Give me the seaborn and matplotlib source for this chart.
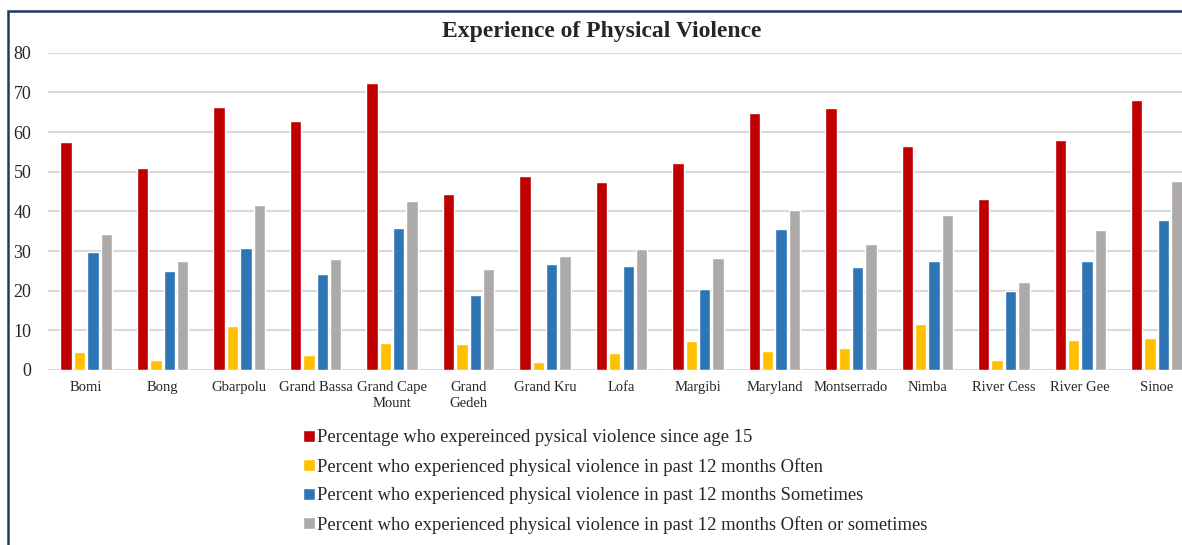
import matplotlib
matplotlib.use("Agg")
import matplotlib.pyplot as plt
from matplotlib.patches import Rectangle
import pandas as pd
import seaborn as sns

counties = ["Bomi", "Bong", "Gbarpolu", "Grand Bassa", "Grand Cape Mount",
            "Grand Gedeh", "Grand Kru", "Lofa", "Margibi", "Maryland",
            "Montserrado", "Nimba", "River Cess", "River Gee", "Sinoe"]
tick_labels = ["Bomi", "Bong", "Gbarpolu", "Grand Bassa", "Grand Cape\nMount",
               "Grand\nGedeh", "Grand Kru", "Lofa", "Margibi", "Maryland",
               "Montserrado", "Nimba", "River Cess", "River Gee", "Sinoe"]

since_age_15 = [57.6, 51.0, 66.2, 62.9, 72.3, 44.5, 49.0, 47.3, 52.2, 64.7,
                66.0, 56.5, 43.1, 57.9, 68.0]
past12_often = [4.6, 2.4, 11.0, 3.8, 6.7, 6.6, 1.9, 4.2, 7.2, 4.7,
                5.5, 11.6, 2.4, 7.6, 8.0]
past12_sometimes = [29.7, 25.0, 30.7, 24.1, 35.7, 18.9, 26.6, 26.1, 20.4, 35.5,
                    26.0, 27.5, 19.9, 27.5, 37.7]
past12_often_or_sometimes = [34.4, 27.6, 41.6, 28.0, 42.5, 25.5, 28.7, 30.5, 28.2, 40.3,
                             31.7, 39.2, 22.2, 35.2, 47.6]

series_names = [
    "Percentage who expereinced pysical violence since age 15",
    "Percent who experienced physical violence in past 12 months Often",
    "Percent who experienced physical violence in past 12 months Sometimes",
    "Percent who experienced physical violence in past 12 months Often or sometimes",
]
series_colors = ["#C00000", "#FFC000", "#2E75B6", "#AEAAAA"]

rows = []
for name, values in zip(series_names,
                        [since_age_15, past12_often, past12_sometimes,
                         past12_often_or_sometimes]):
    for county, v in zip(counties, values):
        rows.append({"County": county, "Series": name, "Value": v})
df = pd.DataFrame(rows)

sns.set_theme(style="white")
plt.rcParams["font.family"] = ["Liberation Serif", "DejaVu Serif"]

W, H = 1182, 545
fig = plt.figure(figsize=(W / 100, H / 100), dpi=100)
ax = fig.add_axes([48 / W, (H - 370) / H, (1195 - 48) / W, (370 - 52.7) / H])

sns.barplot(data=df, x="County", y="Value", hue="Series", order=counties,
            hue_order=series_names, palette=series_colors, width=0.7, gap=0.15,
            saturation=1, ax=ax, legend=True, zorder=3)

ax.set_ylim(0, 80)
ax.set_xlim(-0.5, len(counties) - 0.5)
ax.set_yticks(range(0, 81, 10))
ax.yaxis.grid(True, color="#D9D9D9", linewidth=1.5, zorder=0)
ax.set_axisbelow(True)
for s in ax.spines.values():
    s.set_visible(False)
ax.tick_params(axis="both", length=0)
ax.tick_params(axis="y", labelsize=13, pad=12)
ax.set_xticks(range(len(counties)))
ax.set_xticklabels(tick_labels, fontsize=10.5, linespacing=1.25)
ax.tick_params(axis="x", pad=8)
ax.set_xlabel("")
ax.set_ylabel("")

handles, labels = ax.get_legend_handles_labels()
ax.get_legend().remove()
fig.legend(handles, labels, loc="upper left", bbox_to_anchor=(296 / W, (H - 422) / H),
           frameon=False, fontsize=13.4, handlelength=0.6, handleheight=0.6,
           handletextpad=0.15, labelspacing=0.62, borderaxespad=0)

fig.text(602 / W, (H - 32) / H, "Experience of Physical Violence", ha="center",
         va="center", fontsize=17, fontweight="bold")

fig.patches.append(Rectangle((8 / W, -0.1), (1186 - 8) / W, 1.1 - 11 / H,
                             transform=fig.transFigure, fill=False,
                             edgecolor="#1F3864", linewidth=1.8))

fig.savefig("out.png", dpi=100)
